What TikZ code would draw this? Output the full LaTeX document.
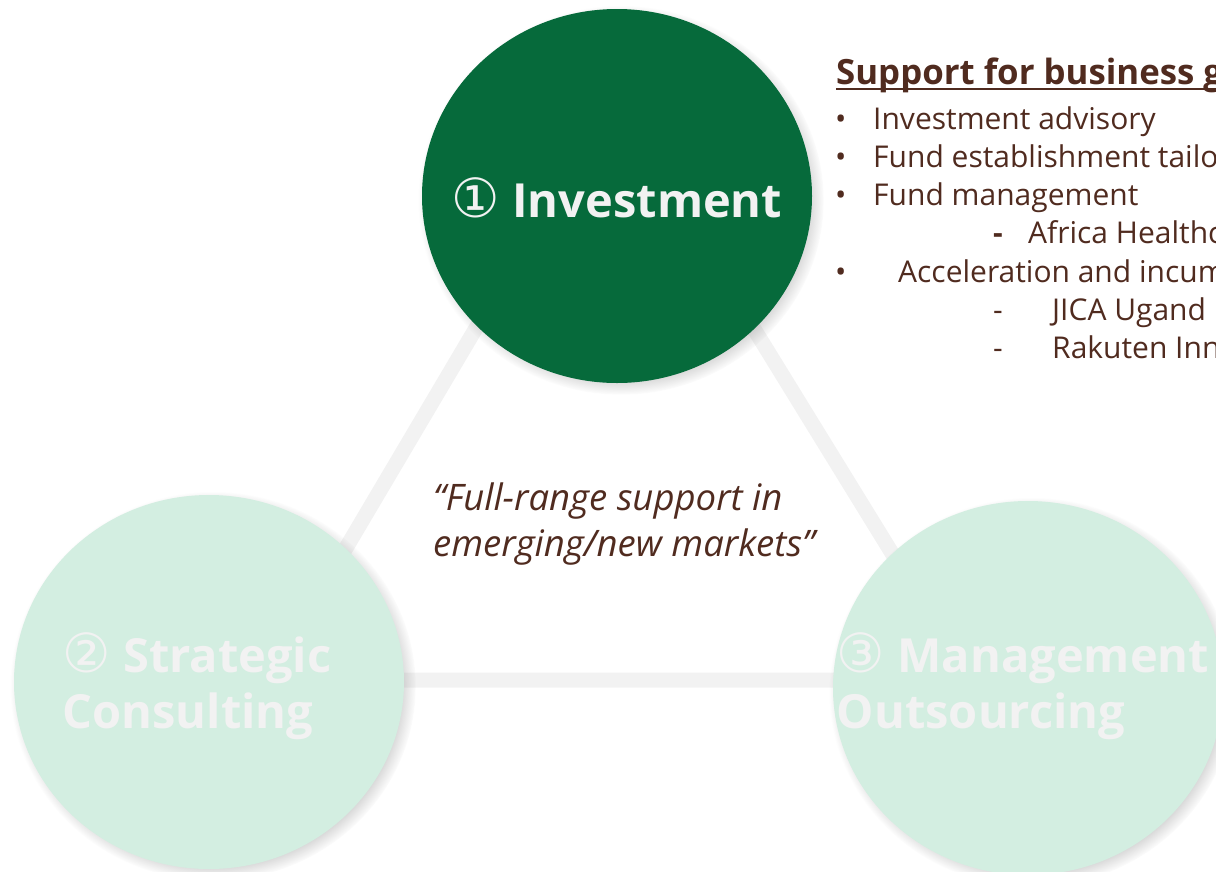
\documentclass[tikz,border=0pt]{standalone}
\usepackage{fontspec}
\setmainfont{Open Sans}
\newfontfamily\digitfont{DejaVu Sans}
\usetikzlibrary{shapes.geometric,shadows,positioning}

\definecolor{investgreen}{HTML}{066A3B}
\definecolor{mintfill}{HTML}{D3EEE1}
\definecolor{paletext}{HTML}{F2F2F2}
\definecolor{textbrown}{HTML}{502B1F}

\newcommand{\pillarfont}{\bfseries\fontsize{47}{56}\selectfont}
\newcommand{\listfont}{\fontsize{30}{38}\selectfont}
\newcommand{\circnum}[1]{{\digitfont\mdseries\fontsize{54}{56}\selectfont #1}}

\begin{document}
\begin{tikzpicture}[x=1pt,y=-1pt,
    pillar/.style={ellipse, minimum width=390pt, minimum height=374pt,
      inner sep=0pt,
      circular drop shadow={shadow xshift=4pt, shadow yshift=-4pt,
        shadow scale=1.04, opacity=.6}},
    pillartext/.style={align=left, text=paletext, font=\pillarfont, inner sep=0pt},
    link/.style={draw=paletext, line width=15pt},
    listitem/.style={anchor=base west, inner sep=0pt, text=textbrown, font=\listfont}]
  \useasboundingbox (0,0) rectangle (1216,871);
  \clip (0,0) rectangle (1216,871);

  % Triangle behind the three pillars
  \coordinate (apex) at (612,98);
  \coordinate (baseL) at (268,680);
  \coordinate (baseR) at (970,680);
  \draw[link] (apex) -- (baseL) -- (baseR) -- cycle;

  % Pillars
  \node[pillar, fill=investgreen,
    label={[pillartext, yshift=-2pt]center:\circnum{①} Investment}] (invest) at (617,196) {};
  \node[pillar, fill=mintfill,
    label={[pillartext, xshift=-12pt, yshift=-4pt]center:\circnum{②} Strategic\\Consulting}] (consult) at (209,682) {};
  \node[pillar, fill=mintfill,
    label={[pillartext, xshift=-5pt, yshift=2pt]center:\circnum{③} Management\\Outsourcing}] (outsrc) at (1028,688) {};

  % Motto
  \node[listitem, font=\itshape\fontsize{36.5}{46}\selectfont, align=left] (motto) at (433,556)
    {“Full-range support in\\emerging/new markets”};

  % Support list
  \node[listitem, font=\bfseries\fontsize{34.8}{38}\selectfont] (title) at (836,84) {Support for business g};
  \draw[textbrown, line width=2pt] ([yshift=-5pt]title.base west) -- ([yshift=-5pt]title.base east);

  \node[listitem] (b1) at (835,129) {•};
  \node[listitem] (t1) at (873,129) {Investment advisory};
  \node[listitem] (b2) at (835,167) {•};
  \node[listitem] (t2) at (873,167) {Fund establishment tailo};
  \node[listitem] (b3) at (835,205) {•};
  \node[listitem] (t3) at (873,205) {Fund management};
  \node[listitem, font=\bfseries\listfont] (d1) at (993,243) {-};
  \node[listitem] (t4) at (1028,243) {Africa Healthc};
  \node[listitem] (b4) at (835,282) {•};
  \node[listitem] (t5) at (898,282) {Acceleration and incum};
  \node[listitem] (d2) at (993,320) {-};
  \node[listitem] (t6) at (1052,320) {JICA Ugand};
  \node[listitem] (d3) at (993,358) {-};
  \node[listitem] (t7) at (1052,358) {Rakuten Inn};
\end{tikzpicture}
\end{document}
